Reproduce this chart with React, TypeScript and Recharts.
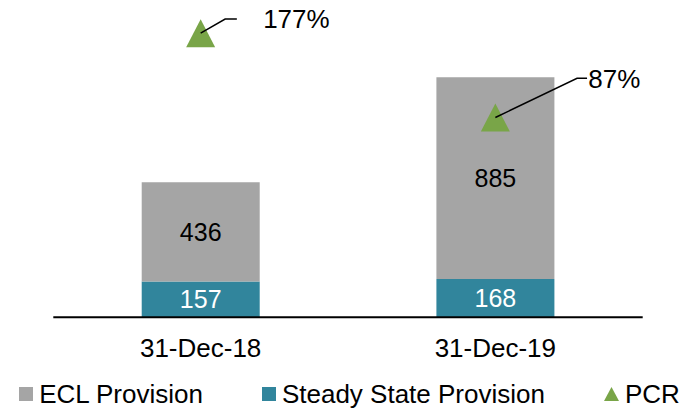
import React from 'react';
import { ComposedChart, Bar, Line, XAxis, YAxis, Legend, LabelList } from 'recharts';

const categories = ['31-Dec-18', '31-Dec-19'];
const steadyStateProvision = [157, 168];
const eclProvision = [436, 885];
const pcrValues = [177, 87];
const pcrLabels = ['177%', '87%'];

const data = categories.map((category, i) => ({
  category,
  steady: steadyStateProvision[i],
  ecl: eclProvision[i],
  pcr: pcrValues[i],
}));

const FONT = '"Liberation Sans", Arial, sans-serif';
const GRAY = '#A5A5A5';
const TEAL = '#31859C';
const GREEN = '#79A548';

// callout geometry relative to each PCR marker
const callouts = [
  { elbowX: 24.5, elbowY: -14.2, endX: 36.2, textX: 62.5 },
  { elbowX: 81.7, elbowY: -39.2, endX: 91.7, textX: 93 },
];

const Triangle = (props: any) => {
  const { cx, cy, index } = props;
  if (cx == null || cy == null) return null;
  return (
    <polygon
      key={`tri-${index}`}
      points={`${cx},${cy - 14} ${cx - 14.5},${cy + 14} ${cx + 14.5},${cy + 14}`}
      fill={GREEN}
    />
  );
};

const Callout = (props: any) => {
  const { x, y, index } = props;
  const c = callouts[index];
  if (!c) return null;
  return (
    <g>
      <polyline
        points={`${x},${y} ${x + c.elbowX},${y + c.elbowY} ${x + c.endX},${y + c.elbowY}`}
        fill="none"
        stroke="#000"
        strokeWidth={1.5}
      />
      <text
        x={x + c.textX}
        y={y + c.elbowY + 0.5}
        dominantBaseline="central"
        fontSize={26}
        fontFamily={FONT}
        fill="#000"
      >
        {pcrLabels[index]}
      </text>
    </g>
  );
};

const renderLegend = () => {
  const items = [
    { label: 'ECL Provision', color: GRAY, type: 'square' },
    { label: 'Steady State Provision', color: TEAL, type: 'square' },
    { label: 'PCR', color: GREEN, type: 'triangle' },
  ];
  return (
    <div
      style={{
        display: 'flex',
        justifyContent: 'center',
        alignItems: 'center',
        gap: 59,
        height: 34,
        paddingTop: 4,
        boxSizing: 'border-box',
        fontFamily: FONT,
        fontSize: 26,
        color: '#000',
        whiteSpace: 'nowrap',
      }}
    >
      {items.map((it) => (
        <div key={it.label} style={{ display: 'flex', alignItems: 'center' }}>
          {it.type === 'square' ? (
            <svg width={14} height={14} style={{ marginRight: 6 }}>
              <rect x={0} y={0} width={14} height={14} fill={it.color} />
            </svg>
          ) : (
            <svg width={15} height={14} style={{ marginRight: 6 }}>
              <polygon points="7.5,0 0,14 15,14" fill={it.color} />
            </svg>
          )}
          <span style={{ lineHeight: '26px' }}>{it.label}</span>
        </div>
      ))}
    </div>
  );
};

export default function App() {
  return (
    <div style={{ position: 'absolute', left: 0, top: 0, width: 699, height: 409, background: '#fff' }}>
      <ComposedChart
        width={699}
        height={409}
        data={data}
        margin={{ top: 21, right: 56.3, left: 53.3, bottom: 0 }}
        barCategoryGap="30%"
      >
        <XAxis
          dataKey="category"
          axisLine={{ stroke: '#000', strokeWidth: 2 }}
          tickLine={false}
          tickMargin={15}
          height={57.7}
          tick={{ fontSize: 26, fill: '#000', fontFamily: FONT }}
          interval={0}
        />
        <YAxis yAxisId="left" hide domain={[0, 1300]} />
        <YAxis yAxisId="right" orientation="right" hide domain={[-126.3, 190]} />
        <Legend verticalAlign="bottom" height={34} content={renderLegend} wrapperStyle={{ left: 0, width: 699, bottom: 0 }} />
        <Bar yAxisId="left" dataKey="steady" stackId="a" fill={TEAL} isAnimationActive={false}>
          <LabelList dataKey="steady" position="center" fill="#fff" fontSize={25} fontFamily={FONT} />
        </Bar>
        <Bar yAxisId="left" dataKey="ecl" stackId="a" fill={GRAY} isAnimationActive={false}>
          <LabelList dataKey="ecl" position="center" fill="#000" fontSize={25} fontFamily={FONT} />
        </Bar>
        <Line
          yAxisId="right"
          dataKey="pcr"
          stroke="none"
          dot={Triangle}
          activeDot={false}
          isAnimationActive={false}
        >
          <LabelList dataKey="pcr" content={Callout} />
        </Line>
      </ComposedChart>
    </div>
  );
}
